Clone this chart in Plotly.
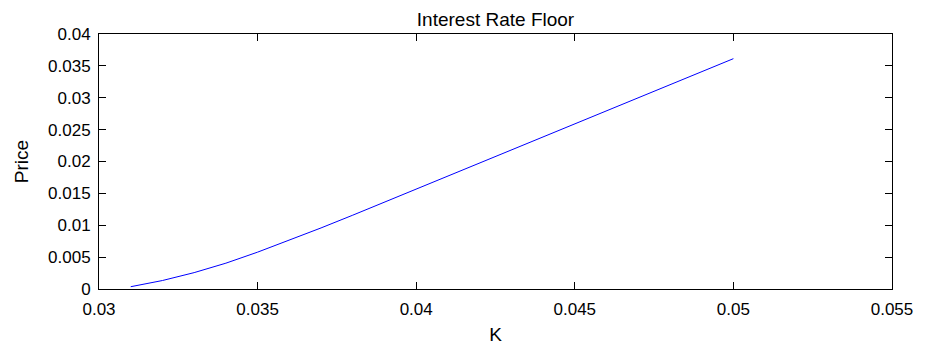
import plotly.graph_objects as go

strike_K = [0.031, 0.032, 0.033, 0.034, 0.035, 0.036, 0.037, 0.038, 0.039, 0.040,
            0.041, 0.042, 0.043, 0.044, 0.045, 0.046, 0.047, 0.048, 0.049, 0.050]
floor_price = [0.00036, 0.00133, 0.00257, 0.00405, 0.00578, 0.00764, 0.00958, 0.01158,
               0.01362, 0.01566, 0.01770, 0.01975, 0.02180, 0.02385, 0.02590, 0.02795,
               0.03000, 0.03205, 0.03410, 0.03613]

x_tick_vals = [0.03, 0.035, 0.04, 0.045, 0.05, 0.055]
x_tick_text = ["0.03", "0.035", "0.04", "0.045", "0.05", "0.055"]
y_tick_vals = [0, 0.005, 0.01, 0.015, 0.02, 0.025, 0.03, 0.035, 0.04]
y_tick_text = ["0", "0.005", "0.01", "0.015", "0.02", "0.025", "0.03", "0.035", "0.04"]

font_family = "Liberation Sans, Arial, sans-serif"

fig = go.Figure()
fig.add_trace(go.Scatter(x=strike_K, y=floor_price, mode="lines",
                         line=dict(color="rgb(0,0,255)", width=1), showlegend=False))

axis_common = dict(showline=True, linecolor="black", linewidth=1, mirror="ticks",
                   ticks="inside", ticklen=7, tickcolor="black", tickwidth=1,
                   showgrid=False, zeroline=False,
                   tickfont=dict(family=font_family, size=17, color="black"))

fig.update_layout(
    width=930, height=346,
    margin=dict(l=91, r=46, t=26, b=62),
    paper_bgcolor="white", plot_bgcolor="white",
    title=dict(text="Interest Rate Floor", x=0.5, xanchor="center", xref="paper",
               y=1 - 11 / 346, yanchor="middle", yref="container",
               font=dict(family=font_family, size=19, color="black")),
    xaxis=dict(range=[0.03, 0.055], tickvals=x_tick_vals, ticktext=x_tick_text,
               ticklabelstandoff=5,
               title=dict(text="K", font=dict(family=font_family, size=19, color="black"),
                          standoff=9),
               **axis_common),
    yaxis=dict(range=[0, 0.04], tickvals=y_tick_vals, ticktext=y_tick_text,
               ticklabelstandoff=4,
               title=dict(text="Price", font=dict(family=font_family, size=19, color="black"),
                          standoff=14),
               **axis_common),
)

fig.write_html("out.html")
